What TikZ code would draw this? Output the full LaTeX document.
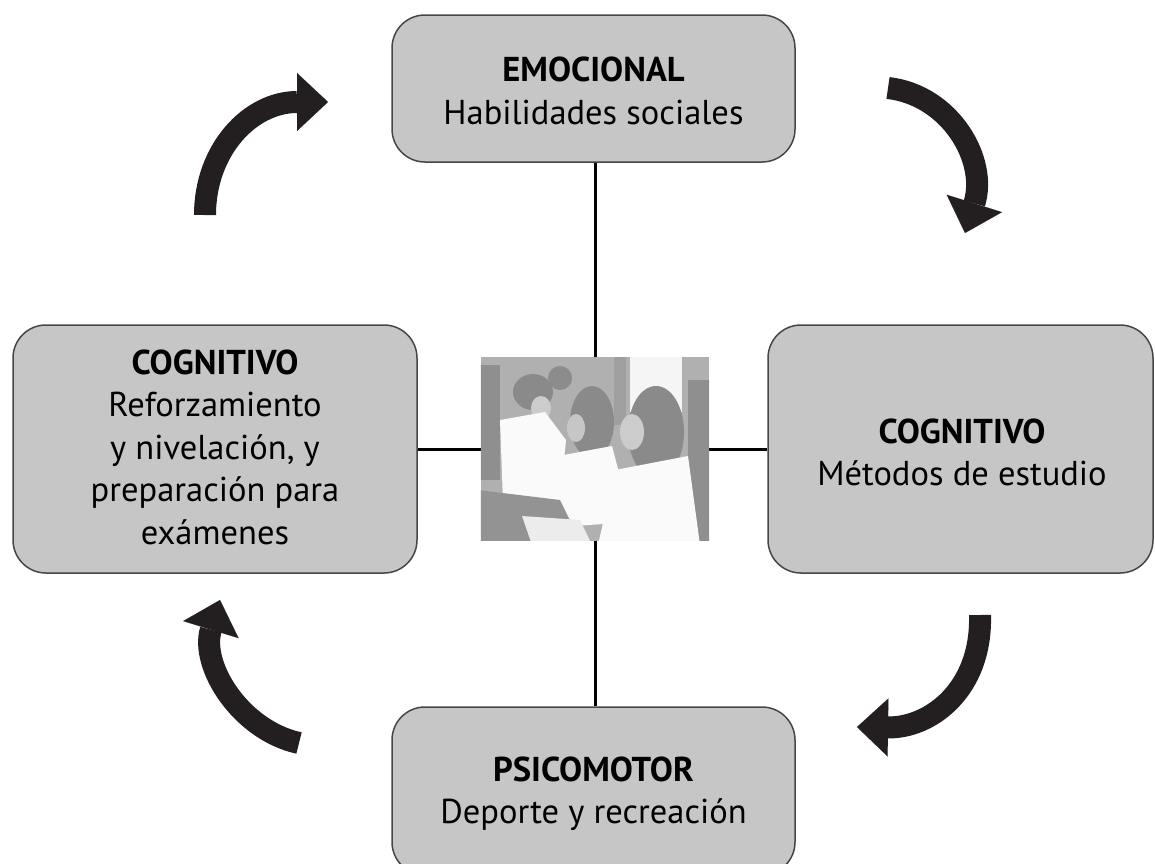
\documentclass[tikz,border=0pt]{standalone}
\usepackage{fontspec}
\setmainfont{PT Sans}
\usepackage{tikz}
\usetikzlibrary{arrows.meta,calc,positioning}
\definecolor{boxgray}{RGB}{198,198,198}
\definecolor{boxline}{RGB}{70,70,70}
\definecolor{arrowblack}{RGB}{35,31,32}
\tikzset{area/.style={
    draw=boxline, fill=boxgray,
    line width=1.5pt,
    rounded corners=33pt,
    minimum height=#1,
    inner sep=0pt
  },
  area/.default=147pt,
  areatext/.style={font=\fontsize{34.5}{42.5}\selectfont, align=center, inner sep=0pt},
  link/.style={line width=3pt, black},
  turn/.style={line width=22pt, arrowblack,
    -{Triangle[length=31pt,width=58pt,line width=0.01pt]}}
}

\begin{document}
\begin{tikzpicture}[x=1pt,y=-1pt]
    \clip (0,0) rectangle (1155,863);
    % the four areas
    \node[area, minimum width=403pt] (emo) at (593.5,88.5) {};
    \node[area=248pt, minimum width=404pt] (cogL) at (215,449) {};
    \node[area=248pt, minimum width=385pt] (cogR) at (960.5,449) {};
    \node[area=168pt, minimum width=403pt] (psi) at (593.5,791) {};
    \node[areatext] (emo-t) at (593.5,91) {\textbf{EMOCIONAL}\\Habilidades sociales};
    \node[areatext] (cogL-t) at (215,447) {\textbf{COGNITIVO}\\Reforzamiento\\y nivelación, y\\preparación para\\exámenes};
    \node[areatext] (cogR-t) at (962,452.5) {\textbf{COGNITIVO}\\Métodos de estudio};
    \node[areatext] (psi-t) at (593.5,793.5) {\textbf{PSICOMOTOR}\\Deporte y recreación};
    % photo in the middle
    \node[inner sep=0pt, minimum width=228pt, minimum height=183pt] (foto) at (595,449) {};
    \draw[link] (emo.south -| foto.north) -- (foto.north);
    \draw[link] (psi.north -| foto.south) -- (foto.south);
    \draw[link] (cogL.east |- foto.west) -- (foto.west);
    \draw[link] (cogR.west |- foto.east) -- (foto.east);
    \begin{scope}
      \clip (foto.south west) rectangle (foto.north east);
      \fill[gray!62] (foto.south west) rectangle (foto.north east);
      \fill[gray!8] (630,350) rectangle (682,412);
      \fill[gray!75] (614,350) rectangle (626,425);
      \fill[gray!88] (688,380) rectangle (712,545);
      \fill[gray!88] (478,365) rectangle (500,480);
      \fill[gray!90] (560,378) circle[x radius=12, y radius=12];
      \fill[gray!92] (533,392) ellipse[x radius=20, y radius=18];
      \fill[gray!40] (541,408) ellipse[x radius=10, y radius=12];
      \fill[gray!4] (500,420) -- (545,412) -- (566,440) -- (560,502) -- (503,502) -- cycle;
      \fill[gray!92] (592,422) ellipse[x radius=22, y radius=36];
      \fill[gray!45] (576,428) ellipse[x radius=9, y radius=14];
      \fill[gray!4] (558,456) -- (612,446) -- (632,522) -- (545,528) -- cycle;
      \fill[gray!92] (656,432) ellipse[x radius=28, y radius=46];
      \fill[gray!40] (632,432) ellipse[x radius=12, y radius=18];
      \fill[gray!4] (615,470) -- (688,456) -- (700,545) -- (598,545) -- cycle;
      \fill[gray!85] (478,490) -- (560,500) -- (582,545) -- (478,545) -- cycle;
      \fill[gray!15] (522,516) -- (580,520) -- (592,545) -- (532,545) -- cycle;
    \end{scope}
    % arrows round the cycle
    \coordinate (ar1-s) at (205,215);
    \coordinate (ar1-e) at (328,102);
    \coordinate (ar2-s) at (888,88);
    \coordinate (ar2-e) at (965,233);
    \coordinate (ar3-s) at (980,615);
    \coordinate (ar3-e) at (857,727);
    \coordinate (ar4-s) at (299,743);
    \coordinate (ar4-e) at (220,600);
    \draw[turn] (ar1-s) .. controls +(0,-65) and +(-78,0) .. (ar1-e);
    \draw[turn] (ar2-s) .. controls +(62,7) and +(23,-73) .. (ar2-e);
    \draw[turn] (ar3-s) .. controls +(2,75) and +(73,1) .. (ar3-e);
    \draw[turn] (ar4-s) .. controls +(-59,-13) and +(-20,65) .. (ar4-e);
\end{tikzpicture}
\end{document}
